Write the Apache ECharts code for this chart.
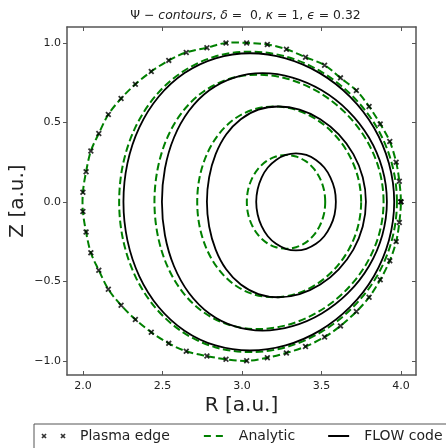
<!DOCTYPE html>
<html><head><meta charset="utf-8">
<script src="https://cdn.jsdelivr.net/npm/echarts@6/dist/echarts.min.js"></script>
<style>html,body{margin:0;padding:0;background:#fff}#c{width:446px;height:448px}</style>
</head><body><div id="c"></div>
<script>
// ---- Plasma edge (markers, also the outermost analytic contour) ----
const edgeR = [4.00,3.99,3.97,3.93,3.87,3.80,3.72,3.62,3.52,3.40,3.28,3.16,3.03,2.90,2.78,2.65,2.54,2.43,2.33,2.24,2.16,2.10,2.05,2.02,2.00,
               2.00,2.02,2.05,2.10,2.16,2.24,2.33,2.43,2.54,2.65,2.78,2.90,3.03,3.16,3.28,3.40,3.52,3.62,3.72,3.80,3.87,3.93,3.97,3.99,4.00];
const edgeZ = [0.00,0.13,0.25,0.38,0.49,0.60,0.70,0.78,0.86,0.91,0.96,0.99,1.00,1.00,0.97,0.94,0.89,0.82,0.74,0.65,0.55,0.43,0.32,0.19,0.06,
               -0.06,-0.19,-0.32,-0.43,-0.55,-0.65,-0.74,-0.82,-0.89,-0.94,-0.97,-0.99,-1.00,-0.98,-0.95,-0.91,-0.85,-0.78,-0.69,-0.60,-0.49,-0.37,-0.25,-0.13,0.00];

// ---- Analytic contours (green dashed) ----
const ana2R = [3.975,3.942,3.846,3.693,3.500,3.280,3.050,2.827,2.626,2.458,2.332,2.254,2.228,2.254,2.332,2.458,2.626,2.827,3.050,3.280,3.500,3.693,3.846,3.942,3.975];
const ana2Z = [0,0.245,0.473,0.668,0.818,0.913,0.945,0.913,0.818,0.668,0.473,0.245,0,-0.245,-0.473,-0.668,-0.818,-0.913,-0.945,-0.913,-0.818,-0.668,-0.473,-0.245,0];
const ana3R = [3.891,3.862,3.777,3.645,3.478,3.291,3.100,2.918,2.757,2.626,2.529,2.470,2.450,2.470,2.529,2.626,2.757,2.918,3.100,3.291,3.478,3.645,3.777,3.862,3.891];
const ana3Z = [0,0.207,0.400,0.566,0.693,0.773,0.800,0.773,0.693,0.566,0.400,0.207,0,-0.207,-0.400,-0.566,-0.693,-0.773,-0.800,-0.773,-0.693,-0.566,-0.400,-0.207,0];
const ana4R = [3.750,3.730,3.672,3.582,3.466,3.336,3.200,3.069,2.951,2.853,2.780,2.734,2.719,2.734,2.780,2.853,2.951,3.069,3.200,3.336,3.466,3.582,3.672,3.730,3.750];
const ana4Z = [0,0.155,0.300,0.424,0.520,0.580,0.600,0.580,0.520,0.424,0.300,0.155,0,-0.155,-0.300,-0.424,-0.520,-0.580,-0.600,-0.580,-0.520,-0.424,-0.300,-0.155,0];
const ana5R = [3.524,3.516,3.491,3.452,3.401,3.341,3.278,3.214,3.154,3.103,3.064,3.039,3.031,3.039,3.064,3.103,3.154,3.214,3.278,3.341,3.401,3.452,3.491,3.516,3.524];
const ana5Z = [0,0.076,0.148,0.209,0.256,0.285,0.295,0.285,0.256,0.209,0.148,0.076,0,-0.076,-0.148,-0.209,-0.256,-0.285,-0.295,-0.285,-0.256,-0.209,-0.148,-0.076,0];

// ---- FLOW code contours (black solid) ----
const flow1R = [3.958,3.925,3.830,3.681,3.490,3.275,3.051,2.834,2.639,2.476,2.355,2.280,2.255,2.280,2.355,2.476,2.639,2.834,3.051,3.275,3.490,3.681,3.830,3.925,3.958];
const flow1Z = [0,0.242,0.468,0.661,0.810,0.903,0.935,0.903,0.810,0.661,0.468,0.242,0,-0.242,-0.468,-0.661,-0.810,-0.903,-0.935,-0.903,-0.810,-0.661,-0.468,-0.242,0];
const flow2R = [3.912,3.883,3.799,3.668,3.502,3.318,3.130,2.952,2.795,2.667,2.573,2.516,2.497,2.516,2.573,2.667,2.795,2.952,3.130,3.318,3.502,3.668,3.799,3.883,3.912];
const flow2Z = [0,0.210,0.405,0.573,0.702,0.782,0.810,0.782,0.702,0.573,0.405,0.210,0,-0.210,-0.405,-0.573,-0.702,-0.782,-0.810,-0.782,-0.702,-0.573,-0.405,-0.210,0];
const flow3R = [3.780,3.760,3.701,3.609,3.493,3.363,3.230,3.104,2.993,2.901,2.835,2.794,2.780,2.794,2.835,2.901,2.993,3.104,3.230,3.363,3.493,3.609,3.701,3.760,3.780];
const flow3Z = [0,0.155,0.300,0.424,0.520,0.580,0.600,0.580,0.520,0.424,0.300,0.155,0,-0.155,-0.300,-0.424,-0.520,-0.580,-0.600,-0.580,-0.520,-0.424,-0.300,-0.155,0];
const flow4R = [3.591,3.583,3.557,3.518,3.466,3.405,3.340,3.276,3.215,3.163,3.124,3.099,3.090,3.099,3.124,3.163,3.215,3.276,3.340,3.405,3.466,3.518,3.557,3.583,3.591];
const flow4Z = [0,0.079,0.153,0.216,0.264,0.295,0.305,0.295,0.264,0.216,0.153,0.079,0,-0.079,-0.153,-0.216,-0.264,-0.295,-0.305,-0.295,-0.264,-0.216,-0.153,-0.079,0];

// ---- Axis ticks ----
const xTicks = [2.0, 2.5, 3.0, 3.5, 4.0];
const yTicks = [-1.0, -0.5, 0.0, 0.5, 1.0];

const FONT = 'DejaVu Sans';
const TXT = '#222';
const SPINE = '#555';
const GREEN = '#008000';
const pts = (R, Z) => R.map((r, i) => [r, Z[i]]);
const fmt = v => Number(v).toFixed(1).replace('-', '\u2212');
const XMARK = 'path://M0,1.1L1.1,0L5.2,4.1L4.1,5.2Z M4.1,0L5.2,1.1L1.1,5.2L0,4.1Z';
const BOX = ' M0,0L0.01,0L0.01,0.01Z M28,10L27.99,10L27.99,9.99Z';

// Closed smooth curve through the data points, positioned by the cartesian axes (api.coord)
function loopRenderer(lineStyle) {
  return function (params, api) {
    if (params.dataIndexInside !== 0) return null;
    const n = params.dataInsideLength;
    const P = [];
    for (let i = 0; i < n; i++) P.push(api.coord([api.value(0, i), api.value(1, i)]));
    const f = P[0], l = P[P.length - 1];
    if (P.length > 2 && Math.abs(f[0] - l[0]) < 0.01 && Math.abs(f[1] - l[1]) < 0.01) P.pop();
    const m = P.length;
    let d = 'M' + P[0][0] + ',' + P[0][1];
    for (let i = 0; i < m; i++) {
      const p0 = P[(i - 1 + m) % m], p1 = P[i], p2 = P[(i + 1) % m], p3 = P[(i + 2) % m];
      const c1x = p1[0] + (p2[0] - p0[0]) / 6, c1y = p1[1] + (p2[1] - p0[1]) / 6;
      const c2x = p2[0] - (p3[0] - p1[0]) / 6, c2y = p2[1] - (p3[1] - p1[1]) / 6;
      d += 'C' + c1x + ',' + c1y + ',' + c2x + ',' + c2y + ',' + p2[0] + ',' + p2[1];
    }
    d += 'Z';
    return {type: 'path', shape: {pathData: d}, style: Object.assign({fill: null}, lineStyle)};
  };
}
function anaSeries(R, Z) {
  return {name: 'Analytic', type: 'custom', coordinateSystem: 'cartesian2d', data: pts(R, Z),
    encode: {x: 0, y: 1}, color: GREEN, itemStyle: {color: GREEN}, z: 2, silent: true, clip: false,
    renderItem: loopRenderer({stroke: GREEN, lineWidth: 2, lineDash: [7.5, 3.5]})};
}
function flowSeries(R, Z) {
  return {name: 'FLOW code', type: 'custom', coordinateSystem: 'cartesian2d', data: pts(R, Z),
    encode: {x: 0, y: 1}, color: '#000', itemStyle: {color: '#000'}, z: 3, silent: true, clip: false,
    renderItem: loopRenderer({stroke: '#000', lineWidth: 1.8})};
}

const chart = echarts.init(document.getElementById('c'), null, {renderer: 'canvas'});
chart.setOption({
  animation: false,
  backgroundColor: '#fff',
  title: {
    text: '{a|Ψ − }{b|contours}{a|, }{b|δ}{a| =  0, }{b|κ}{a| = 1, }{b|ϵ}{a| = 0.32}',
    left: 240.5, top: 5, textAlign: 'center',
    textStyle: {fontWeight: 'normal', fontSize: 12.4, fontFamily: FONT, color: TXT, rich: {
      a: {fontSize: 12.4, fontFamily: FONT, color: TXT, fontWeight: 'normal'},
      b: {fontSize: 12.4, fontFamily: FONT, color: TXT, fontWeight: 'normal', fontStyle: 'italic'}
    }}
  },
  grid: {left: 67, right: 30, top: 27, bottom: 73, containLabel: false, outerBoundsMode: 'none'},
  legend: {
    left: 34, top: 424, width: 440, orient: 'horizontal', selectedMode: false,
    itemGap: 30, itemWidth: 28, itemHeight: 10,
    padding: [5, 20, 20, 7],
    borderColor: SPINE, borderWidth: 1, borderRadius: 0,
    itemStyle: {borderWidth: 0},
    textStyle: {fontSize: 14, fontFamily: FONT, color: TXT, padding: [0, 0, 0, 6]},
    data: [
      {name: 'Plasma edge', icon: 'path://M0.4,3.5L1.5,2.4L5.6,6.5L4.5,7.6Z M4.5,2.4L5.6,3.5L1.5,7.6L0.4,6.5Z M19.4,3.5L20.5,2.4L24.6,6.5L23.5,7.6Z M23.5,2.4L24.6,3.5L20.5,7.6L19.4,6.5Z' + BOX},
      {name: 'Analytic', icon: 'path://M4,4L11,4L11,6L4,6Z M16,4L23,4L23,6L16,6Z' + BOX},
      {name: 'FLOW code', icon: 'path://M3,4.1L24,4.1L24,5.9L3,5.9Z' + BOX}
    ]
  },
  xAxis: [{
    type: 'value', position: 'bottom', min: 1.9, max: 4.095,
    axisLine: {onZero: false, lineStyle: {color: SPINE, width: 1.5}},
    axisTick: {inside: true, length: 4, customValues: xTicks, lineStyle: {color: SPINE, width: 1}},
    axisLabel: {customValues: xTicks, formatter: fmt, margin: 6, fontSize: 11, fontFamily: FONT, color: TXT},
    splitLine: {show: false},
    name: 'R [a.u.]', nameLocation: 'middle', nameGap: 21, nameMoveOverlap: false,
    nameTextStyle: {fontSize: 20, fontFamily: FONT, color: TXT}
  }, {
    type: 'value', position: 'top', min: 1.9, max: 4.095,
    axisLine: {show: true, onZero: false, lineStyle: {color: SPINE, width: 1.5}},
    axisTick: {show: true, inside: true, length: 4, customValues: xTicks, lineStyle: {color: SPINE, width: 1}},
    axisLabel: {show: false}, splitLine: {show: false}
  }],
  yAxis: [{
    type: 'value', position: 'left', min: -1.089, max: 1.1,
    axisLine: {show: true, onZero: false, lineStyle: {color: SPINE, width: 1.5}},
    axisTick: {show: true, inside: false, length: 4, customValues: yTicks, lineStyle: {color: SPINE, width: 1}},
    axisLabel: {customValues: yTicks, formatter: fmt, margin: 6, fontSize: 11, fontFamily: FONT, color: TXT},
    splitLine: {show: false},
    name: 'Z [a.u.]', nameLocation: 'middle', nameGap: 39, nameRotate: 90, nameMoveOverlap: false,
    nameTextStyle: {fontSize: 20, fontFamily: FONT, color: TXT}
  }, {
    type: 'value', position: 'right', min: -1.089, max: 1.1,
    axisLine: {show: true, onZero: false, lineStyle: {color: SPINE, width: 1.5}},
    axisTick: {show: true, inside: true, length: 4, customValues: yTicks, lineStyle: {color: SPINE, width: 1}},
    axisLabel: {show: false}, splitLine: {show: false}
  }],
  series: [
    anaSeries(edgeR, edgeZ),
    anaSeries(ana2R, ana2Z),
    anaSeries(ana3R, ana3Z),
    anaSeries(ana4R, ana4Z),
    anaSeries(ana5R, ana5Z),
    flowSeries(flow1R, flow1Z),
    flowSeries(flow2R, flow2Z),
    flowSeries(flow3R, flow3Z),
    flowSeries(flow4R, flow4Z),
    {name: 'Plasma edge', type: 'scatter', data: pts(edgeR, edgeZ), symbol: XMARK, symbolSize: 6,
     color: '#000', itemStyle: {color: '#000'}, z: 5, silent: true}
  ]
});
</script>
</body></html>
